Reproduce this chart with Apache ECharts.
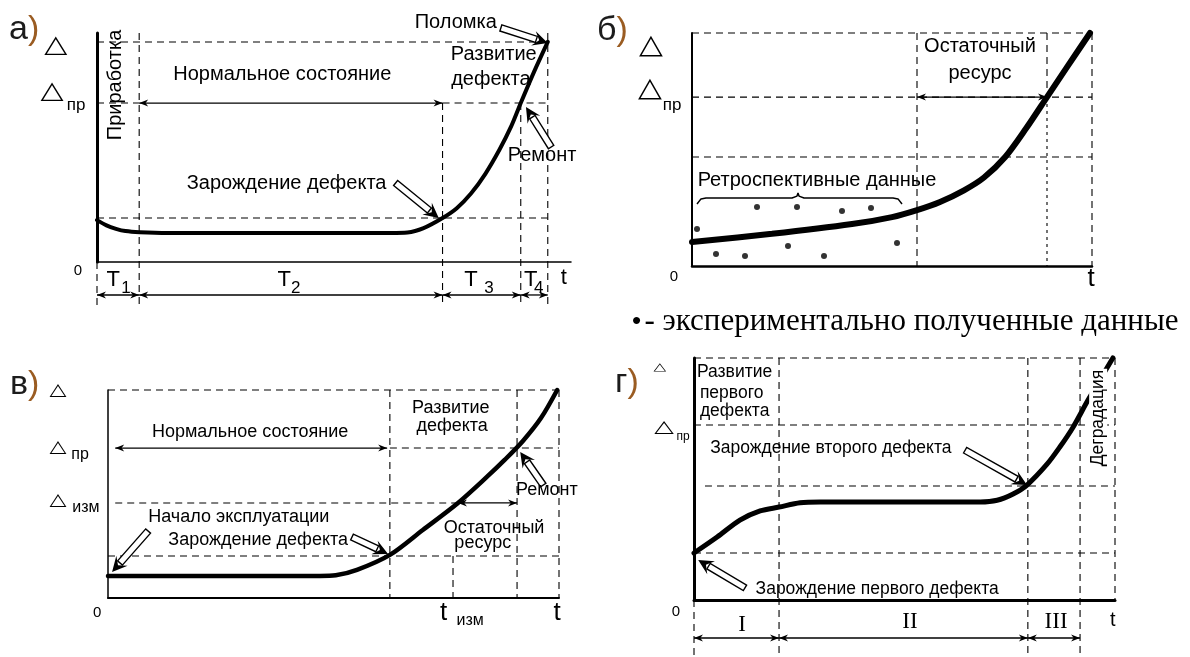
<!DOCTYPE html>
<html>
<head>
<meta charset="utf-8">
<title>Развитие дефекта</title>
<script src="https://cdn.jsdelivr.net/npm/echarts@6.0.0/dist/echarts.min.js"></script>
<style>
  html, body { margin: 0; padding: 0; background: #fff; }
  #chart { width: 1190px; height: 657px; }
</style>
</head>
<body>
<div id="chart"></div>
<script>
// every panel: t and Δ axes run 0..100

// а) normal life with run-in, defect, repair, breakdown
const curveA = [[0, 18.3], [2, 16], [4, 14.5], [6, 13.5], [9, 13], [15, 12.7], [40, 12.7], [62, 12.7],
  [65.5, 12.9], [68.9, 14.8], [72.9, 19.2], [75.9, 23.5], [78.9, 29.9], [81.9, 38.4], [84.9, 49],
  [87.4, 59.3], [89.4, 69.4], [92.2, 83], [95.1, 96.1]];
const guidesA = [[0, 96.1, 95.1, 96.1], [0, 69.4, 8.9, 69.4], [72.9, 69.4, 95.1, 69.4],
  [0, 19.2, 95.1, 19.2], [0, 0, 0, -18.8], [8.9, 100, 8.9, -18.8], [72.9, 69.4, 72.9, -18.8],
  [89.4, 69.4, 89.4, -18.8], [95.1, 100, 95.1, -18.8]];
const spansA = [[8.9, 69.4, 72.9, 69.4], [0, -14.4, 8.9, -14.4], [8.9, -14.4, 72.9, -14.4],
  [72.9, -14.4, 89.4, -14.4], [89.4, -14.4, 95.1, -14.4]];
const pointersA = [[63, 34.5, 72.1, 19.2], [85.2, 102.2, 95.1, 95.6], [95.8, 50.2, 90.5, 67.7]];
const labelsA = [
  [39.1, 82.1, 'Нормальное состояние', 'txt'],
  [40, 34.5, 'Зарождение дефекта', 'txt'],
  [83.7, 90.4, 'Развитие', 'txt'], [83.1, 79.5, 'дефекта', 'txt'],
  [75.7, 104.8, 'Поломка', 'txt'],
  [93.9, 46.7, 'Ремонт', 'txt'],
  [3.8, 77.3, 'Приработка', 'rot'],
  [3.4, -7.9, 'T', 'tick'], [6.1, -11.4, '1', 'sub'],
  [39.5, -7.9, 'T', 'tick'], [41.9, -11.4, '2', 'sub'],
  [78.9, -7.9, 'T', 'tick'], [82.7, -11.4, '3', 'sub'],
  [91.5, -7.9, 'T', 'tick'], [93.2, -11.4, '4', 'sub'],
  [98.5, -7, 't', 'tick'],
  [-8.7, 94.3, '△', 'delta'], [-9.5, 74.2, '△', 'delta'], [-4.4, 68.6, 'пр', 'sub'],
  [-4, -3.9, '0', 'zero']
];

// б) residual life from retrospective data
const curveB = [[0, 10.3], [20, 13.8], [40, 18], [50, 21], [56.25, 24], [62, 27.5], [68, 32.5],
  [73, 38], [78.3, 46.8], [83.5, 59], [88.75, 72.5], [94, 86], [99.5, 100]];
const pointsB = [[1.25, 15.9], [6, 5.2], [13.25, 4.3], [16.25, 25.3], [24, 8.6], [26.25, 25.3],
  [33, 4.3], [37.5, 23.6], [44.75, 24.9], [51.25, 9.9]];
const braceB = [[1.25, 26.6], [2.25, 28.8], [3.5, 29.2], [25, 29.2], [26.25, 30], [26.5, 31.3],
  [26.75, 30], [28, 29.2], [50.25, 29.2], [51.5, 28.8], [52.5, 26.6]];
const guidesB = [[0, 100, 100, 100], [0, 72.5, 100, 72.5], [0, 46.8, 100, 46.8],
  [56.25, 100, 56.25, 0], [88.75, 100, 88.75, 72.5], [100, 100, 100, 0]];
const dottedB = [[88.75, 72.5, 88.75, 0]];
const spansB = [[56.25, 72.5, 88.75, 72.5]];
const labelsB = [
  [31.25, 36.9, 'Ретроспективные данные', 'txt'],
  [72, 94, 'Остаточный', 'txt'], [72, 82.8, 'ресурс', 'txt'],
  [-10.25, 94.4, '△', 'delta'], [-10.5, 76, '△', 'delta'], [-5, 69.1, 'пр', 'sub'],
  [-4.5, -4.7, '0', 'zero'], [99.75, -5.6, 't', 'tick']
];

// в) residual life from a measurement
const curveC = [[0, 10.6], [25, 10.6], [47, 10.6], [50.5, 10.9], [55.2, 13.5], [62.5, 20.7],
  [69.8, 32.7], [77.6, 45.7], [84, 58.2], [88, 66.5], [92, 75.5], [96, 86.5], [99.6, 100]];
const guidesC = [[0, 100, 100, 100], [62.5, 72.1, 100, 72.1], [1.6, 45.7, 77.6, 45.7],
  [0, 20.2, 100, 20.2], [62.5, 100, 62.5, 0], [76.5, 20.2, 76.5, 0], [90.7, 100, 90.7, 0],
  [100, 100, 100, 0]];
const spansC = [[1.6, 72.1, 61.9, 72.1], [77.6, 45.7, 90.7, 45.7]];
const pointersC = [[8.9, 32.2, 0.9, 12.5], [54.1, 29.3, 62.1, 21.2], [96.5, 54.3, 91.4, 70.2]];
const labelsC = [
  [31.5, 79.8, 'Нормальное состояние', 'txt'],
  [76, 91.3, 'Развитие', 'txt'], [76.3, 82.7, 'дефекта', 'txt'],
  [29, 38.9, 'Начало эксплуатации', 'txt'],
  [33.3, 27.9, 'Зарождение дефекта', 'txt'],
  [85.6, 33.7, 'Остаточный', 'txt'], [83.1, 26.4, 'ресурс', 'txt'],
  [97.3, 51.9, 'Ремонт', 'txt'],
  [-11.1, 99.5, '△', 'delta'], [-11.1, 72.1, '△', 'delta'], [-6.2, 68.8, 'пр', 'sub'],
  [-11.1, 46.6, '△', 'delta'], [-4.9, 43.3, 'изм', 'sub'],
  [-2.4, -7.2, '0', 'zero'], [74.4, -7.2, 't', 'tick'], [80.3, -11, 'изм', 'sub'],
  [99.6, -7.2, 't', 'tick']
];

// г) two defects and degradation
const curveD = [[0, 19.4], [5.5, 26], [10.9, 33], [15.7, 36.8], [20.2, 38.4], [25.2, 40.2],
  [30, 40.5], [50, 40.5], [68, 40.5], [72, 41.2], [75.8, 43.8], [79.1, 47.5], [83.8, 56],
  [86.9, 63.2], [90, 71.3], [93.6, 82.6], [99.5, 100]];
const guidesD = [[0, 100, 100, 100], [0, 72.3, 100, 72.3], [2.6, 47.1, 100, 47.1],
  [0, 19.4, 100, 19.4], [0, 0, 0, -23.6], [20.2, 100, 20.2, -23.6], [79.3, 100, 79.3, -23.6],
  [91.7, 100, 91.7, -23.6], [100, 100, 100, 0]];
const spansD = [[0, -15.7, 20.2, -15.7], [20.2, -15.7, 79.3, -15.7], [79.3, -15.7, 91.7, -15.7]];
const pointersD = [[12.1, 5, 1, 16.5], [64.4, 61.9, 79.1, 47.5]];
const labelsD = [
  [0.7, 94.2, 'Развитие', 'left'], [1.4, 85.5, 'первого', 'left'], [1.4, 78.1, 'дефекта', 'left'],
  [32.5, 62.8, 'Зарождение второго дефекта', 'txt'],
  [43.5, 4.5, 'Зарождение первого дефекта', 'txt'],
  [96, 75.2, 'Деградация', 'rotbg'],
  [11.4, -10.3, 'I', 'roman'], [51.3, -9.1, 'II', 'roman'], [86, -9.1, 'III', 'roman'],
  [-8.1, 96.3, '△', 'deltaS'], [-7.1, 71.1, '△', 'delta'], [-2.6, 67.4, 'пр', 'sub'],
  [-4.3, -5, '0', 'zero'], [99.5, -8.3, 't', 'tick']
];

const SANS = '"Liberation Sans", Arial, sans-serif';
const SERIF = '"Liberation Serif", "Times New Roman", serif';
const TRI = '"DejaVu Sans", sans-serif';
const BLACK = '#000';

const panels = [
  { grid: { left: 97, top: 33, width: 474, height: 229 }, axisW: [1.5, 3], curveW: 4,
    curve: curveA, guides: guidesA, spans: spansA, pointers: pointersA, labels: labelsA,
    font: { txt: 20, sub: 17, delta: 24, deltaS: 24, dScale: 1.25, tick: 22, zero: 15, roman: 22 } },
  { grid: { left: 692, top: 33, width: 400, height: 233 }, axisW: [2.5, 2], curveW: 6,
    curve: curveB, guides: guidesB, dotted: dottedB, spans: spansB, labels: labelsB,
    points: pointsB, brace: braceB,
    font: { txt: 20, sub: 17, delta: 27, deltaS: 26, dScale: 1.15, tick: 26, zero: 15, roman: 22 } },
  { grid: { left: 108, top: 390, width: 451, height: 208 }, axisW: [2, 1.5], curveW: 4.5,
    curve: curveC, guides: guidesC, spans: spansC, pointers: pointersC, labels: labelsC,
    font: { txt: 18, sub: 16, delta: 17, deltaS: 17, dScale: 1.3, tick: 26, zero: 15, roman: 22 } },
  { grid: { left: 694, top: 358, width: 421, height: 242 }, axisW: [3, 3], curveW: 5,
    curve: curveD, guides: guidesD, spans: spansD, pointers: pointersD, labels: labelsD,
    font: { txt: 17.5, sub: 12, delta: 17, deltaS: 11, dScale: 1.5, tick: 20, zero: 15, roman: 23 } }
];

function ends(api) {
  const a = api.coord([api.value(0), api.value(1)]);
  const b = api.coord([api.value(2), api.value(3)]);
  const d = Math.hypot(b[0] - a[0], b[1] - a[1]) || 1;
  return { a, b, ux: (b[0] - a[0]) / d, uy: (b[1] - a[1]) / d };
}

function head(tip, ux, uy, len, half, notch) {
  const bx = tip[0] - ux * len, by = tip[1] - uy * len;
  return {
    type: 'polygon',
    shape: { points: [tip, [bx - uy * half, by + ux * half],
      [tip[0] - ux * len * notch, tip[1] - uy * len * notch], [bx + uy * half, by - ux * half]] },
    style: { fill: BLACK }
  };
}

function guideRender(dash, width) {
  return function (params, api) {
    const e = ends(api);
    return { type: 'line', shape: { x1: e.a[0], y1: e.a[1], x2: e.b[0], y2: e.b[1] },
      style: { stroke: BLACK, lineWidth: width, lineDash: dash, fill: null } };
  };
}

function spanRender(params, api) {
  const e = ends(api);
  return { type: 'group', children: [
    { type: 'line', shape: { x1: e.a[0], y1: e.a[1], x2: e.b[0], y2: e.b[1] },
      style: { stroke: BLACK, lineWidth: 1.3 } },
    head(e.b, e.ux, e.uy, 9, 3.5, 0.7),
    head(e.a, -e.ux, -e.uy, 9, 3.5, 0.7)
  ] };
}

function pointerRender(params, api) {
  const e = ends(api);
  const hl = 15, sw = 3.2;
  const nx = -e.uy, ny = e.ux;
  const hb = [e.b[0] - e.ux * hl * 0.8, e.b[1] - e.uy * hl * 0.8];
  return { type: 'group', children: [
    { type: 'polygon', shape: { points: [
      [e.a[0] + nx * sw, e.a[1] + ny * sw], [hb[0] + nx * sw, hb[1] + ny * sw],
      [hb[0] - nx * sw, hb[1] - ny * sw], [e.a[0] - nx * sw, e.a[1] - ny * sw]] },
      style: { fill: '#fff', stroke: BLACK, lineWidth: 1.4 } },
    head(e.b, e.ux, e.uy, hl, 7.5, 0.6)
  ] };
}

function labelStyle(kind, f) {
  const s = { font: f.txt + 'px ' + SANS, align: 'center', rot: 0, sx: 1, bg: null };
  if (kind === 'left') s.align = 'left';
  if (kind === 'rot' || kind === 'rotbg') s.rot = Math.PI / 2;
  if (kind === 'rotbg') s.bg = '#fff';
  if (kind === 'sub') s.font = f.sub + 'px ' + SANS;
  if (kind === 'tick') s.font = f.tick + 'px ' + SANS;
  if (kind === 'zero') s.font = f.zero + 'px ' + SANS;
  if (kind === 'roman') s.font = f.roman + 'px ' + SERIF;
  if (kind === 'delta' || kind === 'deltaS') {
    s.font = (kind === 'delta' ? f.delta : f.deltaS) + 'px ' + TRI;
    s.sx = f.dScale;
  }
  return s;
}

const grids = [], xAxes = [], yAxes = [], series = [];
panels.forEach(function (p, i) {
  grids.push(Object.assign({ outerBoundsMode: 'none', containLabel: false }, p.grid));
  xAxes.push({ gridIndex: i, type: 'value', min: 0, max: 100,
    axisLine: { show: true, onZero: false, lineStyle: { color: BLACK, width: p.axisW[0] } },
    axisTick: { show: false }, axisLabel: { show: false }, splitLine: { show: false } });
  yAxes.push({ gridIndex: i, type: 'value', min: 0, max: 100,
    axisLine: { show: true, onZero: false, lineStyle: { color: BLACK, width: p.axisW[1] } },
    axisTick: { show: false }, axisLabel: { show: false }, splitLine: { show: false } });
  const ax = { xAxisIndex: i, yAxisIndex: i, silent: true };

  series.push(Object.assign({ type: 'custom', clip: false, z: 3, data: p.guides,
    renderItem: guideRender([7, 5], 1.1) }, ax));
  if (p.dotted) {
    series.push(Object.assign({ type: 'custom', clip: false, z: 3, data: p.dotted,
      renderItem: guideRender([3, 4], 1.1) }, ax));
  }
  series.push(Object.assign({ type: 'line', clip: false, z: 5, data: p.curve, symbol: 'none',
    smooth: 0.3, lineStyle: { color: BLACK, width: p.curveW, cap: 'round' } }, ax));
  series.push(Object.assign({ type: 'custom', clip: false, z: 6, data: p.spans,
    renderItem: spanRender }, ax));
  if (p.pointers) {
    series.push(Object.assign({ type: 'custom', clip: false, z: 7, data: p.pointers,
      renderItem: pointerRender }, ax));
  }
  if (p.points) {
    series.push(Object.assign({ type: 'scatter', clip: false, z: 6, data: p.points,
      symbol: 'circle', symbolSize: 6, itemStyle: { color: BLACK } }, ax));
  }
  if (p.brace) {
    series.push(Object.assign({ type: 'line', clip: false, z: 6, data: p.brace, symbol: 'none',
      lineStyle: { color: BLACK, width: 1.5 } }, ax));
  }
  series.push(Object.assign({ type: 'custom', clip: false, z: 10,
    data: p.labels.map(function (l) { return [l[0], l[1]]; }),
    renderItem: function (params, api) {
      const l = p.labels[params.dataIndex];
      const s = labelStyle(l[3], p.font);
      const pt = api.coord([l[0], l[1]]);
      return { type: 'text', x: pt[0], y: pt[1], rotation: s.rot, scaleX: s.sx,
        style: { text: l[2], x: 0, y: 0, font: s.font, fill: BLACK, align: s.align,
          verticalAlign: 'middle', backgroundColor: s.bg, padding: s.bg ? [0, 1] : 0 } };
    } }, ax));
});

const panelTags = [['а', 9, 30], ['б', 597, 31], ['в', 10, 385], ['г', 615, 383]];

const chart = echarts.init(document.getElementById('chart'), null, { renderer: 'canvas' });
chart.setOption({
  animation: false,
  backgroundColor: '#fff',
  grid: grids,
  xAxis: xAxes,
  yAxis: yAxes,
  series: series,
  graphic: panelTags.map(function (t) {
    return { type: 'text', x: t[1], y: t[2], silent: true,
      style: { text: '{l|' + t[0] + '}{p|)}', verticalAlign: 'middle',
        rich: { l: { font: '34px ' + SANS, fill: '#1c1c1c' },
                p: { font: '34px ' + SANS, fill: '#9a5c22' } } } };
  }).concat([{
    type: 'text', x: 632, y: 322, silent: true,
    style: { text: '{b|•} {t|- экспериментально полученные данные}', verticalAlign: 'middle',
      rich: { b: { font: 'bold 26px ' + SERIF, fill: BLACK },
              t: { font: '31px ' + SERIF, fill: BLACK } } }
  }])
});
</script>
</body>
</html>
